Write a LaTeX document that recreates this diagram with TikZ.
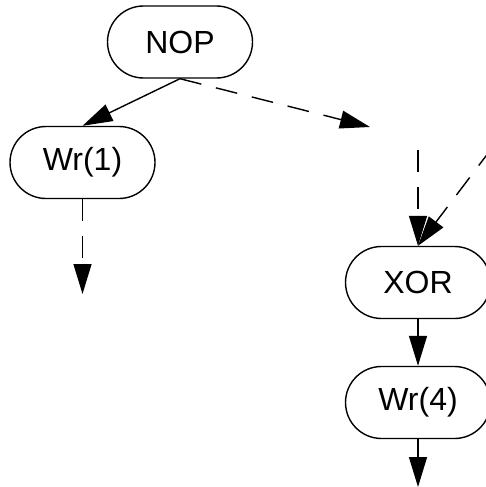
\documentclass[tikz,border=0pt]{standalone}
\usepackage{fontspec}
\setmainfont{Liberation Sans}
\usetikzlibrary{arrows.meta,shapes.misc}
\tikzset{
  opbox/.style={draw, line width=1.4pt, rounded rectangle, minimum width=145pt, minimum height=72pt, inner sep=0pt, font=\fontsize{32}{38}\selectfont},
  flow/.style={line width=1.4pt, -{Triangle[length=30pt,width=18pt]}},
  dflow/.style={flow, dash pattern=on 22pt off 15pt}
}
\begin{document}
\begin{tikzpicture}[x=1pt,y=-1pt]
\useasboundingbox (0,0) rectangle (486,487);
\clip (0,0) rectangle (486,487);
\node[opbox] (nop) at (180,42) {NOP};
\node[opbox] (w1) at (82.5,162.5) {Wr(1)};
\node[opbox] (xor) at (418,282.5) {XOR};
\node[opbox] (w4) at (418,402.5) {Wr(4)};
\coordinate (nopend) at (370,127);
\coordinate (vstart) at (418,150);
\coordinate (dstart) at (492,148);
\coordinate (w1end) at (82.5,294);
\coordinate (w4end) at (418,487);
\draw[flow] (nop.south) -- (w1.north);
\draw[dflow] (nop.south) -- (nopend);
\draw[dflow] (vstart) -- (xor.north);
\draw[dflow] (dstart) -- (xor.north);
\draw[flow] (xor.south) -- (w4.north);
\draw[flow] (w4.south) -- (w4end);
\draw[dflow] (w1.south) -- (w1end);
\end{tikzpicture}
\end{document}
